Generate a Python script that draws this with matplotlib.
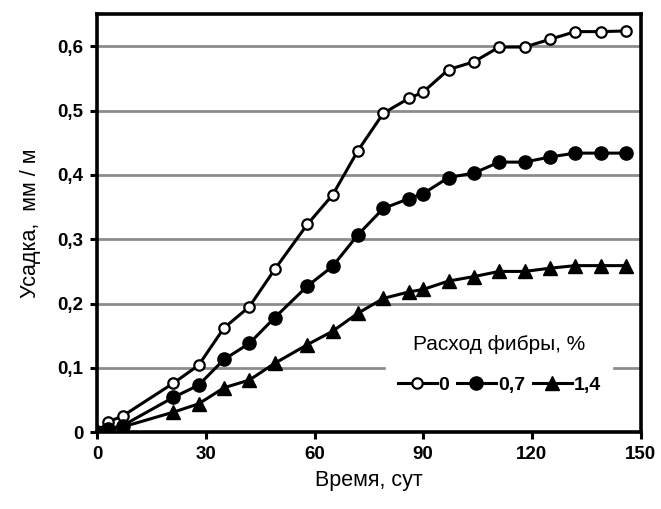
import numpy as np
import matplotlib
matplotlib.use('Agg')
import matplotlib.pyplot as plt

plt.rcParams['font.family'] = ['Liberation Sans', 'DejaVu Sans']

days = [0, 3, 7, 21, 28, 35, 42, 49, 58, 65, 72, 79, 86, 90, 97, 104, 111, 118, 125, 132, 139, 146]
s_0 = [0, 0.016, 0.025, 0.076, 0.104, 0.162, 0.195, 0.253, 0.323, 0.369, 0.438, 0.496,
       0.519, 0.529, 0.564, 0.576, 0.599, 0.599, 0.611, 0.623, 0.623, 0.624]
s_07 = [0, 0.005, 0.010, 0.054, 0.073, 0.113, 0.138, 0.178, 0.227, 0.258, 0.307, 0.348,
        0.363, 0.371, 0.396, 0.403, 0.420, 0.420, 0.428, 0.434, 0.434, 0.434]
s_14 = [0, 0.003, 0.008, 0.031, 0.044, 0.069, 0.081, 0.107, 0.136, 0.157, 0.185, 0.208,
        0.218, 0.222, 0.235, 0.242, 0.250, 0.250, 0.255, 0.259, 0.259, 0.259]
labels = ['0', '0,7', '1,4']

fig = plt.figure(figsize=(6.61, 5.09), dpi=100)
ax = fig.add_axes([0.147, 0.151, 0.822, 0.821])

ax.plot(days, s_0, color='black', lw=2.2, marker='o', ms=7.5, mfc='white', mec='black', mew=1.6,
        label=labels[0], zorder=3)
ax.plot(days, s_07, color='black', lw=2.2, marker='o', ms=9.5, mfc='black', mec='black',
        label=labels[1], zorder=3)
ax.plot(days, s_14, color='black', lw=2.2, marker='^', ms=10, mfc='black', mec='black',
        label=labels[2], zorder=3)

ax.set_xlim(0, 150)
ax.set_ylim(0, 0.65)
ax.set_xticks([0, 30, 60, 90, 120, 150])
ax.set_yticks([0, 0.1, 0.2, 0.3, 0.4, 0.5, 0.6])
ax.set_yticklabels(['0', '0,1', '0,2', '0,3', '0,4', '0,5', '0,6'])
for y in [0.1, 0.2, 0.3, 0.4, 0.5, 0.6]:
    ax.axhline(y, color='#8c8c8c', lw=2, zorder=1)

for s in ax.spines.values():
    s.set_linewidth(2.6)
ax.tick_params(direction='out', length=5, width=2.2, labelsize=13.5, pad=5)
for t in ax.get_xticklabels() + ax.get_yticklabels():
    t.set_fontweight('bold')

ax.set_xlabel('Время, сут', fontsize=15.5, labelpad=5)
ax.set_ylabel('Усадка,  мм / м', fontsize=15.5, labelpad=12)

leg = ax.legend(title='Расход фибры, %', loc='lower center', bbox_to_anchor=(0.74, 0.04),
                ncol=3, frameon=True, framealpha=1, edgecolor='white', fancybox=False,
                handlelength=2.0, handletextpad=0.1, columnspacing=0.4,
                prop={'weight': 'bold', 'size': 14}, title_fontsize=15, borderpad=0.6)
leg.get_title().set_fontweight('normal')
leg._legend_box.sep = 16

fig.savefig('out.png', dpi=100)
